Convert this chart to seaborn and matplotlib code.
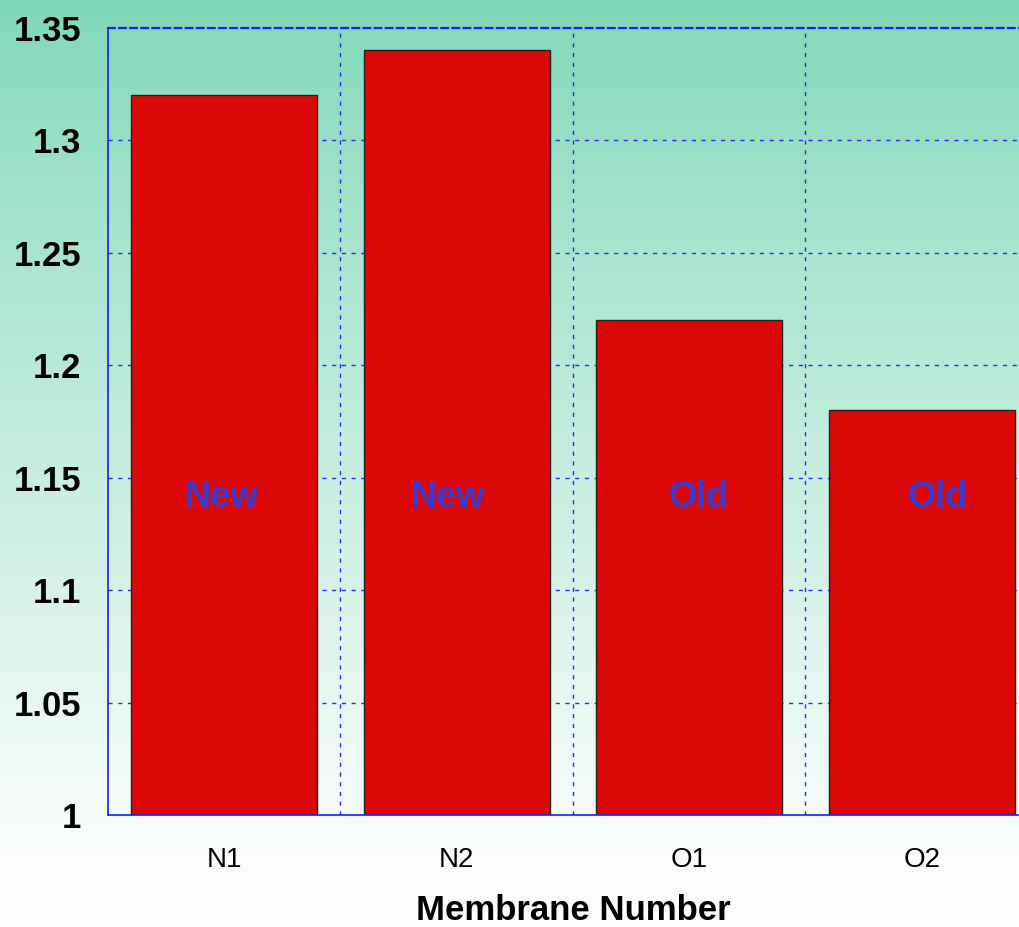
import numpy as np
import matplotlib
matplotlib.use("Agg")
import matplotlib.pyplot as plt
import seaborn as sns
import pandas as pd

# Membrane measurements
membranes = ["N1", "N2", "O1", "O2"]
values = [1.32, 1.34, 1.22, 1.18]
ages = ["New", "New", "Old", "Old"]
y_ticks = [1.0, 1.05, 1.1, 1.15, 1.2, 1.25, 1.3, 1.35]
y_tick_labels = ["1", "1.05", "1.1", "1.15", "1.2", "1.25", "1.3", "1.35"]

df = pd.DataFrame({"Membrane": membranes, "Value": values, "Age": ages})

sns.set_theme(style="white")
plt.rcParams["font.family"] = ["Liberation Sans", "DejaVu Sans"]

W, H = 1020, 927
fig = plt.figure(figsize=(W / 100, H / 100), dpi=100)

# Vertical green-to-white background gradient
bg = fig.add_axes([0, 0, 1, 1], zorder=0)
top = np.array([128, 216, 184]) / 255
bottom = np.array([250, 253, 252]) / 255
t = np.linspace(0, 1, 256)[:, None]
t = np.clip(t / 0.92, 0, 1) ** 0.9
grad = top[None, :] * (1 - t) + bottom[None, :] * t
bg.imshow(grad[:, None, :], aspect="auto", extent=[0, 1, 0, 1], origin="upper")
bg.set_axis_off()

left, right = 108, 1038
ax_top, ax_bot = 28, 815
ax = fig.add_axes([left / W, 1 - ax_bot / H, (right - left) / W, (ax_bot - ax_top) / H], zorder=1)
ax.patch.set_alpha(0)

sns.barplot(data=df, x="Membrane", y="Value", ax=ax, color="#dc0808",
            width=0.8, edgecolor="#222222", linewidth=1.0, saturation=1, zorder=2)

ax.set_ylim(1.0, 1.35)
ax.set_xlim(-0.5, 3.5)
ax.set_yticks(y_ticks)
ax.set_yticklabels(y_tick_labels, fontsize=25, fontweight="bold", color="black")
ax.set_xticks(range(len(membranes)))
ax.set_xticklabels(membranes, fontsize=20, color="black")
ax.tick_params(axis="both", length=0)
ax.tick_params(axis="x", pad=23)
ax.tick_params(axis="y", pad=19)
ax.set_ylabel("")
ax.set_xlabel("Membrane Number", fontsize=25, fontweight="bold", color="black", labelpad=15)

# Dashed blue grid at category boundaries and y ticks
grid_kw = dict(color="#2a2ae0", linewidth=1.0, linestyle=(0, (3, 4)), zorder=1)
for yv in y_ticks[1:-1]:
    ax.axhline(yv, **grid_kw)
for xv in [0.5, 1.5, 2.5]:
    ax.axvline(xv, **grid_kw)

for side in ["left", "bottom"]:
    ax.spines[side].set_color("#2020e0")
    ax.spines[side].set_linewidth(1.2)
ax.spines["top"].set_color("#2020e0")
ax.spines["top"].set_linewidth(1.6)
ax.spines["top"].set_linestyle((0, (3, 2)))
ax.spines["right"].set_visible(False)

# Group labels inside bars, nudged slightly from bar centres
label_shift = [-0.01, -0.04, 0.04, 0.07]
for i, (lab, dx) in enumerate(zip(ages, label_shift)):
    ax.text(i + dx, 1.141, lab, ha="center", va="center", fontsize=26,
            fontweight="bold", color="#3a3ad0", zorder=3)

fig.savefig("out.png", dpi=100)
